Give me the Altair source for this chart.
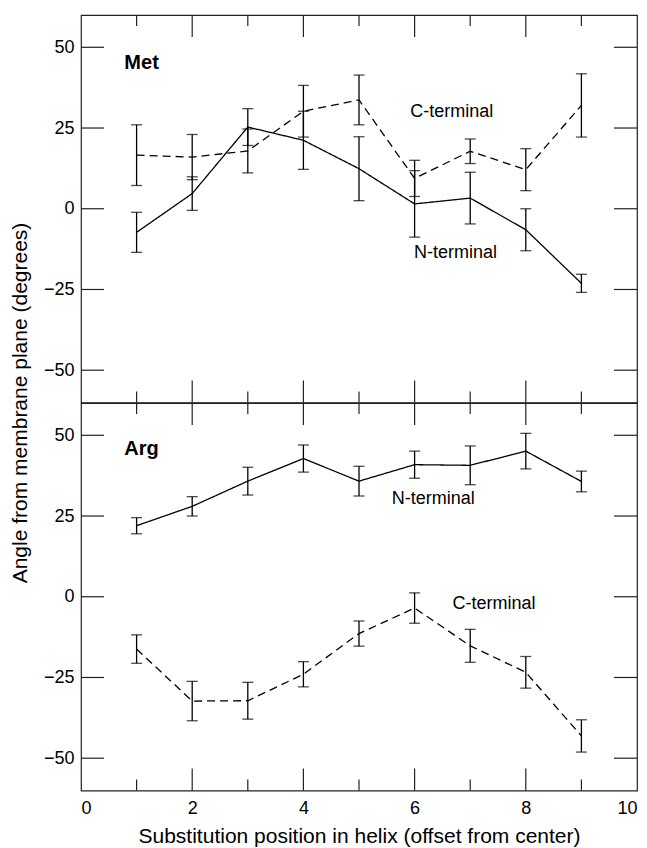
import altair as alt
import pandas as pd

# ---- data ----
positions = [1, 2, 3, 4, 5, 6, 7, 8, 9]

met_n = [-7.3, 4.7, 25.3, 21.2, 12.4, 1.5, 3.3, -6.5, -23.1]
met_n_err = [6.2, 5.2, 5.7, 9.0, 9.9, 10.3, 8.0, 6.5, 2.8]
met_c = [16.6, 16.0, 17.9, 30.2, 33.7, 9.4, 17.8, 12.1, 32.0]
met_c_err = [9.4, 7.0, 6.8, 8.0, 7.7, 5.6, 3.8, 6.5, 9.8]

arg_n = [22.0, 28.0, 35.8, 42.8, 35.8, 40.9, 40.7, 45.1, 35.7]
arg_n_err = [2.5, 3.0, 4.3, 4.2, 4.6, 4.2, 6.0, 5.5, 3.2]
arg_c = [-16.2, -32.3, -32.2, -24.0, -11.4, -3.5, -15.2, -23.4, -43.1]
arg_c_err = [4.4, 6.1, 5.7, 3.9, 3.9, 4.7, 5.1, 4.9, 5.0]

series_names = ["N-terminal", "C-terminal"]

y_ticks = [-50, -25, 0, 25, 50]
x_labels = [0, 2, 4, 6, 8, 10]
x_major = [2, 4, 6, 8]
x_minor = [1, 3, 5, 7, 9]

met_ann_text = ["C-terminal", "N-terminal"]
met_ann_x = [5.92, 5.99]
met_ann_y = [30.0, -13.8]
arg_ann_text = ["N-terminal", "C-terminal"]
arg_ann_x = [5.59, 6.68]
arg_ann_y = [30.2, -2.1]
panel_names = ["Met", "Arg"]
panel_name_x = [0.78, 0.78]
panel_name_y = [43.2, 44.0]

x_title = "Substitution position in helix (offset from center)"
y_title = "Angle from membrane plane (degrees)"

FONT = "Liberation Sans"
W, H = 556, 387.5
MAJ, MIN, YT = 22, 11, 23

xscale = alt.Scale(domain=[0, 10], nice=False, zero=False)
yscale = alt.Scale(domain=[-60, 60], nice=False, zero=False)


def panel(n, n_err, c, c_err, ann_text, ann_x, ann_y, name, name_x, name_y, top):
    rows = []
    for s, vals, errs in ((series_names[0], n, n_err), (series_names[1], c, c_err)):
        for p, v, e in zip(positions, vals, errs):
            rows.append({"x": p, "value": v, "lo": v - e, "hi": v + e, "terminal": s})
    df = pd.DataFrame(rows)

    if top:
        y_axis = alt.Axis(values=y_ticks, ticks=False, domain=False, grid=False,
                          labelPadding=7, labelFontSize=18, labelFont=FONT, labelColor="black",
                          title=y_title, titleFont=FONT, titleFontSize=21, titleFontWeight="normal",
                          titleColor="black", titleAngle=270, titleX=-61, titleY=H,
                          titleAlign="center", titleBaseline="middle")
        x_axis = None
    else:
        y_axis = alt.Axis(values=y_ticks, ticks=False, domain=False, grid=False,
                          labelPadding=7, labelFontSize=18, labelFont=FONT, labelColor="black",
                          title=" ", titlePadding=0)
        x_axis = alt.Axis(values=x_labels, ticks=False, domain=False, grid=False,
                          labelPadding=9, labelFontSize=18, labelFont=FONT, labelColor="black",
                          title=x_title, titleFont=FONT, titleFontSize=21, titleFontWeight="normal",
                          titleColor="black", titlePadding=8)

    def X(f):
        return alt.X(f, scale=xscale, axis=x_axis)

    def Y(f):
        return alt.Y(f, scale=yscale, axis=y_axis)

    base = alt.Chart(df)
    lines = base.mark_line(color="black", strokeWidth=1.3).encode(
        x=X("x:Q"),
        y=Y("value:Q"),
        strokeDash=alt.StrokeDash("terminal:N", scale=alt.Scale(domain=series_names, range=[[1, 0], [8, 5]]), legend=None),
    )
    bars = base.mark_rule(color="black", strokeWidth=1.3).encode(
        x=X("x:Q"), y=Y("lo:Q"), y2="hi:Q",
    )
    cap_lo = base.mark_tick(color="black", orient="horizontal", size=11, thickness=1.3).encode(
        x=X("x:Q"), y=Y("lo:Q"),
    )
    cap_hi = base.mark_tick(color="black", orient="horizontal", size=11, thickness=1.3).encode(
        x=X("x:Q"), y=Y("hi:Q"),
    )

    yt = alt.Chart(pd.DataFrame({"v": y_ticks}))
    ytick_l = yt.mark_rule(color="#222", strokeWidth=1.2).encode(
        y=Y("v:Q"), x=alt.value(0), x2=alt.value(YT))
    ytick_r = yt.mark_rule(color="#222", strokeWidth=1.2).encode(
        y=Y("v:Q"), x=alt.value(W - YT), x2=alt.value(W))

    xmaj = alt.Chart(pd.DataFrame({"v": x_major}))
    xmin = alt.Chart(pd.DataFrame({"v": x_minor}))
    xt = []
    for ch, ln in ((xmaj, MAJ), (xmin, MIN)):
        xt.append(ch.mark_rule(color="#222", strokeWidth=1.2).encode(
            x=X("v:Q"), y=alt.value(0), y2=alt.value(ln)))
        xt.append(ch.mark_rule(color="#222", strokeWidth=1.2).encode(
            x=X("v:Q"), y=alt.value(H), y2=alt.value(H - ln)))

    ann = alt.Chart(pd.DataFrame({"t": ann_text, "x": ann_x, "y": ann_y})).mark_text(
        font=FONT, fontSize=18, align="left", baseline="middle", color="black").encode(
        x=X("x:Q"), y=Y("y:Q"), text="t:N")
    lab = alt.Chart(pd.DataFrame({"t": [name], "x": [name_x], "y": [name_y]})).mark_text(
        font=FONT, fontSize=20, fontWeight="bold", align="left", baseline="alphabetic", color="black").encode(
        x=X("x:Q"), y=Y("y:Q"), text="t:N")

    return alt.layer(lines, bars, cap_lo, cap_hi, ytick_l, ytick_r, *xt, ann, lab).properties(
        width=W, height=H)


top = panel(met_n, met_n_err, met_c, met_c_err, met_ann_text, met_ann_x, met_ann_y,
            panel_names[0], panel_name_x[0], panel_name_y[0], True)
bottom = panel(arg_n, arg_n_err, arg_c, arg_c_err, arg_ann_text, arg_ann_x, arg_ann_y,
               panel_names[1], panel_name_x[1], panel_name_y[1], False)

chart = alt.vconcat(top, bottom, spacing=0, bounds="flush").properties(
    padding={"left": 8, "top": 13, "right": 5, "bottom": 5},
    background="white",
).configure_view(stroke="#222", strokeWidth=1.2).configure_concat(spacing=0)

chart.save("out.html", embed_options={"renderer": "svg", "actions": False})
